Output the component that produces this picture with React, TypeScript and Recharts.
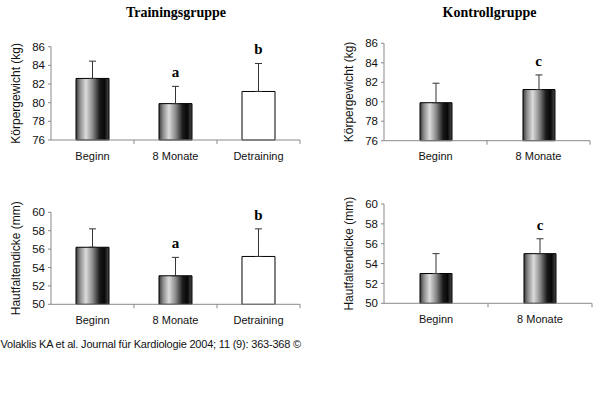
import React from "react";
import {
  ComposedChart,
  Bar,
  Line,
  XAxis,
  YAxis,
  ErrorBar,
  Cell,
  LabelList,
} from "recharts";

const TRAINING_CATS = ["Beginn", "8 Monate", "Detraining"];
const KONTROLL_CATS = ["Beginn", "8 Monate"];

// Körpergewicht (kg): mean, upper SD, significance letter
const TRAINING_WEIGHT = [82.6, 79.9, 81.2];
const TRAINING_WEIGHT_SD = [1.85, 1.85, 3.0];
const TRAINING_WEIGHT_SIG = ["", "a", "b"];

const KONTROLL_WEIGHT = [79.9, 81.25];
const KONTROLL_WEIGHT_SD = [2.0, 1.5];
const KONTROLL_WEIGHT_SIG = ["", "c"];

// Hautfaltendicke (mm)
const TRAINING_SKIN = [56.2, 53.1, 55.2];
const TRAINING_SKIN_SD = [2.0, 2.0, 3.0];
const TRAINING_SKIN_SIG = ["", "a", "b"];

const KONTROLL_SKIN = [53.0, 55.0];
const KONTROLL_SKIN_SD = [2.0, 1.5];
const KONTROLL_SKIN_SIG = ["", "c"];

const WEIGHT_TICKS = [76, 78, 80, 82, 84, 86];
const SKIN_TICKS = [50, 52, 54, 56, 58, 60];

const SANS = '"Liberation Sans", Arial, sans-serif';
const SERIF = '"Liberation Serif", "Times New Roman", serif';
const AXIS = "#8a8a8a";
const Y_AXIS_W = 51;
const RIGHT_PAD = 5;

function CatTick(props: any) {
  const { x, y, payload, bandHalf } = props;
  const half = bandHalf || 0;
  const axisY = y - 12;
  return (
    <g>
      {half > 0 && (
        <line x1={x + half} x2={x + half} y1={axisY} y2={axisY + 4} stroke={AXIS} />
      )}
      <text
        x={x}
        y={y}
        dy="0.71em"
        textAnchor="middle"
        fontSize={11}
        fill="#111"
        fontFamily={SANS}
      >
        {payload.value}
      </text>
    </g>
  );
}

type PanelProps = {
  id: string;
  cats: string[];
  values: number[];
  sd: number[];
  sig: string[];
  ticks: number[];
  yLabel: string;
  left: number;
  top: number;
  width: number;
  height: number;
  marginTop: number;
  barSize: number;
};

function Panel(p: PanelProps) {
  const data = p.cats.map((c, i) => ({
    cat: c,
    value: p.values[i],
    err: [0, p.sd[i]],
    top: p.values[i] + p.sd[i],
    sig: p.sig[i],
  }));
  const bandHalf = (p.width - Y_AXIS_W - RIGHT_PAD) / p.cats.length / 2;
  return (
    <div style={{ position: "absolute", left: p.left, top: p.top }}>
      <ComposedChart
        width={p.width}
        height={p.height}
        data={data}
        margin={{ top: p.marginTop, right: RIGHT_PAD, bottom: 0, left: 0 }}
      >
        <defs>
          <linearGradient id={p.id} x1="0" y1="0" x2="1" y2="0">
            <stop offset="0%" stopColor="#3a3a3a" />
            <stop offset="12%" stopColor="#8a8a8a" />
            <stop offset="30%" stopColor="#dcdcdc" />
            <stop offset="50%" stopColor="#8c8c8c" />
            <stop offset="72%" stopColor="#1a1a1a" />
            <stop offset="86%" stopColor="#080808" />
            <stop offset="100%" stopColor="#4a4a4a" />
          </linearGradient>
        </defs>
        <XAxis
          dataKey="cat"
          height={30}
          interval={0}
          axisLine={{ stroke: AXIS }}
          tickLine={false}
          tickSize={6}
          tickMargin={6}
          tick={(tp: any) => <CatTick {...tp} bandHalf={bandHalf} />}
        />
        <YAxis
          domain={[p.ticks[0], p.ticks[p.ticks.length - 1]]}
          ticks={p.ticks}
          width={Y_AXIS_W}
          axisLine={{ stroke: AXIS }}
          tickLine={{ stroke: AXIS }}
          tickSize={3}
          tickMargin={3}
          tick={{ fontSize: 11.5, fill: "#111", fontFamily: SANS }}
          label={{
            value: p.yLabel,
            angle: -90,
            position: "insideLeft",
            offset: 16,
            style: { textAnchor: "middle", fontSize: 12, fill: "#111", fontFamily: SANS },
          }}
        />
        <Bar
          dataKey="value"
          barSize={p.barSize}
          stroke="#000"
          strokeWidth={1}
          isAnimationActive={false}
        >
          {data.map((d) => (
            <Cell key={d.cat} fill={d.cat === "Detraining" ? "#ffffff" : `url(#${p.id})`} />
          ))}
          <ErrorBar dataKey="err" width={3.5} stroke="#333" strokeWidth={1} direction="y" />
        </Bar>
        <Line
          dataKey="top"
          stroke="none"
          dot={false}
          activeDot={false}
          isAnimationActive={false}
        >
          <LabelList
            dataKey="sig"
            position="top"
            offset={9}
            style={{ fontFamily: SERIF, fontWeight: 700, fontSize: 15, fill: "#000" }}
          />
        </Line>
      </ComposedChart>
    </div>
  );
}

export default function App() {
  return (
    <div
      style={{
        position: "absolute",
        left: 0,
        top: 0,
        width: 600,
        height: 393,
        background: "#fff",
        overflow: "hidden",
      }}
    >
      <svg width={600} height={393} style={{ position: "absolute", left: 0, top: 0 }}>
        <text x={176} y={17} textAnchor="middle" fontFamily={SERIF} fontWeight={700} fontSize={14} fill="#000">
          Trainingsgruppe
        </text>
        <text x={489.5} y={17} textAnchor="middle" fontFamily={SERIF} fontWeight={700} fontSize={14} fill="#000">
          Kontrollgruppe
        </text>
        <text x={0.5} y={348} fontFamily={SANS} fontSize={11} letterSpacing={-0.2} fill="#111">
          Volaklis KA et al. Journal für Kardiologie 2004; 11 (9): 363-368 ©
        </text>
      </svg>
      <Panel
        id="gradTW"
        cats={TRAINING_CATS}
        values={TRAINING_WEIGHT}
        sd={TRAINING_WEIGHT_SD}
        sig={TRAINING_WEIGHT_SIG}
        ticks={WEIGHT_TICKS}
        yLabel="Körpergewicht (kg)"
        left={0}
        top={0}
        width={305}
        height={170}
        marginTop={46.7}
        barSize={33}
      />
      <Panel
        id="gradKW"
        cats={KONTROLL_CATS}
        values={KONTROLL_WEIGHT}
        sd={KONTROLL_WEIGHT_SD}
        sig={KONTROLL_WEIGHT_SIG}
        ticks={WEIGHT_TICKS}
        yLabel="Körpergewicht (kg)"
        left={333}
        top={0}
        width={262}
        height={170.7}
        marginTop={43.3}
        barSize={32}
      />
      <Panel
        id="gradTS"
        cats={TRAINING_CATS}
        values={TRAINING_SKIN}
        sd={TRAINING_SKIN_SD}
        sig={TRAINING_SKIN_SIG}
        ticks={SKIN_TICKS}
        yLabel="Hautfaltendicke (mm)"
        left={0}
        top={190}
        width={305}
        height={144.3}
        marginTop={22.3}
        barSize={33}
      />
      <Panel
        id="gradKS"
        cats={KONTROLL_CATS}
        values={KONTROLL_SKIN}
        sd={KONTROLL_SKIN_SD}
        sig={KONTROLL_SKIN_SIG}
        ticks={SKIN_TICKS}
        yLabel="Hautfaltendicke (mm)"
        left={333}
        top={190}
        width={264}
        height={143.3}
        marginTop={14}
        barSize={32}
      />
    </div>
  );
}
